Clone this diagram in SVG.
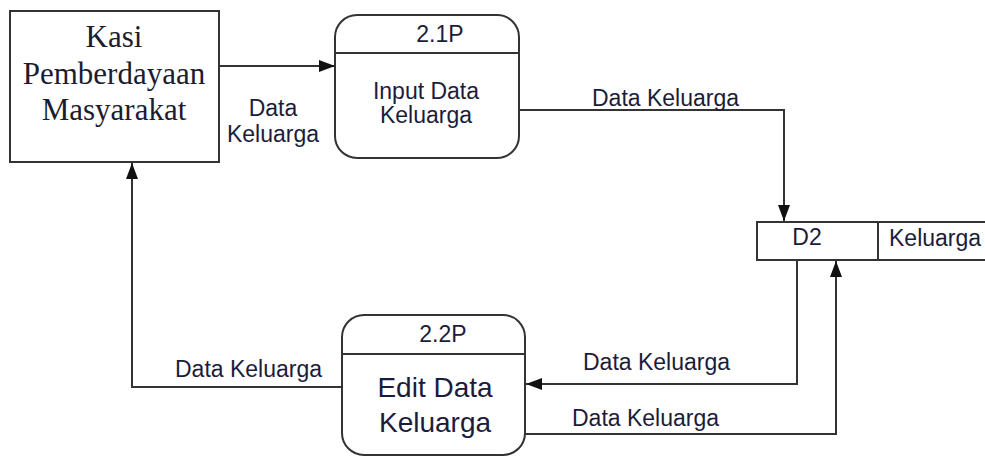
<svg xmlns="http://www.w3.org/2000/svg" width="985" height="458" viewBox="0 0 985 458">
  <defs>
    <marker id="arrow" viewBox="0 0 16 12" refX="16" refY="6" markerWidth="16" markerHeight="12" markerUnits="userSpaceOnUse" orient="auto">
      <path d="M0,0 L16,6 L0,12 Z" fill="#111"/>
    </marker>
    <style>
      .box { fill: #fff; stroke: #333; stroke-width: 2; }
      .line { fill: none; stroke: #333; stroke-width: 2; }
      .flow { fill: none; stroke: #333; stroke-width: 2; marker-end: url(#arrow); }
      .serif { font-family: "Liberation Serif", "Times New Roman", serif; font-size: 31px; fill: #1c1c30; text-anchor: middle; }
      .sans { font-family: "Liberation Sans", Arial, sans-serif; font-size: 23px; fill: #1c1c3a; }
      .mid { text-anchor: middle; }
      .big { font-size: 28px; }
    </style>
  </defs>

  <rect width="985" height="458" fill="#fff"/>

  <!-- connectors -->
  <g id="connectors">
    <!-- Kasi -> Input Data Keluarga -->
    <line class="flow" x1="219" y1="66" x2="335" y2="66"/>
    <text class="sans mid" x="273" y="116">Data</text>
    <text class="sans mid" x="273" y="142">Keluarga</text>

    <!-- Input Data Keluarga -> D2 -->
    <polyline class="flow" points="519,110 784,110 784,221"/>
    <text class="sans" x="592" y="106">Data Keluarga</text>

    <!-- D2 -> Edit Data Keluarga -->
    <polyline class="flow" points="797,260 797,384 526,384"/>
    <text class="sans" x="583" y="370">Data Keluarga</text>

    <!-- Edit Data Keluarga -> D2 -->
    <polyline class="flow" points="525,434 836,434 836,261"/>
    <text class="sans" x="572" y="426">Data Keluarga</text>

    <!-- Edit Data Keluarga -> Kasi -->
    <polyline class="flow" points="342,387 132,387 132,163"/>
    <text class="sans" x="175" y="377">Data Keluarga</text>
  </g>

  <!-- external entity -->
  <g id="kasi">
    <rect class="box" x="10" y="11" width="209" height="151"/>
    <text class="serif" x="114" y="47">Kasi</text>
    <text class="serif" x="114" y="84">Pemberdayaan</text>
    <text class="serif" x="114" y="120">Masyarakat</text>
  </g>

  <!-- process 2.1P -->
  <g id="p21">
    <rect class="box" x="335" y="15" width="184" height="143" rx="22" ry="22"/>
    <line class="line" x1="335" y1="53" x2="519" y2="53"/>
    <text class="sans mid" x="440" y="42">2.1P</text>
    <text class="sans mid" x="426" y="99">Input Data</text>
    <text class="sans mid" x="426" y="123">Keluarga</text>
  </g>

  <!-- data store D2 -->
  <g id="d2">
    <rect class="box" x="757" y="222" width="240" height="38"/>
    <line class="line" x1="878" y1="222" x2="878" y2="260"/>
    <text class="sans mid" x="807" y="245">D2</text>
    <text class="sans" x="889" y="246">Keluarga</text>
  </g>

  <!-- process 2.2P -->
  <g id="p22">
    <rect class="box" x="342" y="315" width="183" height="140" rx="22" ry="22"/>
    <line class="line" x1="342" y1="354" x2="525" y2="354"/>
    <text class="sans mid" x="443" y="342">2.2P</text>
    <text class="sans mid big" x="435" y="397">Edit Data</text>
    <text class="sans mid big" x="435" y="432">Keluarga</text>
  </g>
</svg>
